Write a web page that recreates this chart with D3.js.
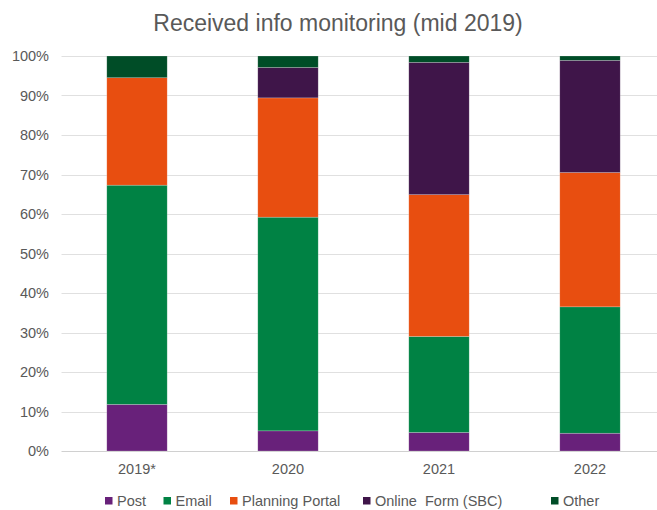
<!DOCTYPE html>
<html>
<head>
<meta charset="utf-8">
<script src="https://cdn.jsdelivr.net/npm/d3@7"></script>
<style>
  body { margin: 0; background: #fff; }
  text { font-family: "Liberation Sans", Arial, sans-serif; fill: #595959; }
</style>
</head>
<body>
<svg id="chart" width="657" height="510"></svg>
<script>
const categories = ["2019*", "2020", "2021", "2022"];
const seriesNames = ["Post", "Email", "Planning Portal", "Online  Form (SBC)", "Other"];
const post = [11.8, 5.1, 4.7, 4.5];
const email = [55.5, 54.1, 24.3, 32.0];
const planningPortal = [27.2, 30.2, 35.9, 34.0];
const onlineForm = [0, 7.7, 33.5, 28.4];
const other = [5.5, 2.9, 1.6, 1.1];
const yTicks = [0, 10, 20, 30, 40, 50, 60, 70, 80, 90, 100];
const colors = ["#68217A", "#008244", "#E84E10", "#3F1549", "#004D27"];

(function () {
const seriesValues = [post, email, planningPortal, onlineForm, other];
const table = categories.map((c, i) => {
  const row = { cat: c };
  seriesNames.forEach((s, k) => row[s] = seriesValues[k][i]);
  return row;
});

const svg = d3.select("#chart");
const pLeft = 61.5, pRight = 665.5, pTop = 56, pBottom = 451;

const x = d3.scaleBand().domain(categories).range([pLeft, pRight]).paddingInner(0.6).paddingOuter(0.3);
const y = d3.scaleLinear().domain([0, 100]).range([pBottom, pTop]);

// gridlines
svg.append("g").selectAll("line").data(yTicks).join("line")
  .attr("x1", pLeft).attr("x2", pRight)
  .attr("y1", d => Math.round(y(d)) + 0.5).attr("y2", d => Math.round(y(d)) + 0.5)
  .attr("stroke", d => d === 0 ? "#d0d0d0" : "#e0e0e0").attr("stroke-width", 1);

// y labels
svg.append("g").selectAll("text").data(yTicks).join("text")
  .attr("x", 49).attr("y", d => y(d) + 5)
  .attr("text-anchor", "end").attr("font-size", "14.5px")
  .text(d => d + "%");

// stacked bars
const stack = d3.stack().keys(seriesNames)(table);
svg.append("g").selectAll("g").data(stack).join("g")
  .attr("fill", (d, i) => colors[i])
  .selectAll("rect").data(d => d).join("rect")
  .attr("x", d => x(d.data.cat))
  .attr("width", x.bandwidth())
  .attr("y", d => y(d[1]))
  .attr("height", d => Math.max(0, y(d[0]) - y(d[1])))
  .attr("stroke", "rgba(255,255,255,0.35)").attr("stroke-width", 0.6);

// x labels
svg.append("g").selectAll("text").data(categories).join("text")
  .attr("x", d => x(d) + x.bandwidth() / 2).attr("y", 474)
  .attr("text-anchor", "middle").attr("font-size", "14.5px")
  .text(d => d);

// title
svg.append("text").attr("x", 338).attr("y", 31)
  .attr("text-anchor", "middle").attr("font-size", "23px")
  .text("Received info monitoring (mid 2019)");

// legend
const legendStarts = [105, 163.5, 230, 363, 551];
const lg = svg.append("g").selectAll("g").data(seriesNames).join("g")
  .attr("transform", (d, i) => `translate(${legendStarts[i]},0)`);
lg.append("rect").attr("x", 0).attr("y", 497).attr("width", 7.5).attr("height", 7.5)
  .attr("fill", (d, i) => colors[i]);
lg.append("text").attr("x", 12).attr("y", 505.5).attr("font-size", "14.5px")
  .attr("xml:space", "preserve").style("white-space", "pre")
  .text(d => d);
})();
</script>
</body>
</html>
